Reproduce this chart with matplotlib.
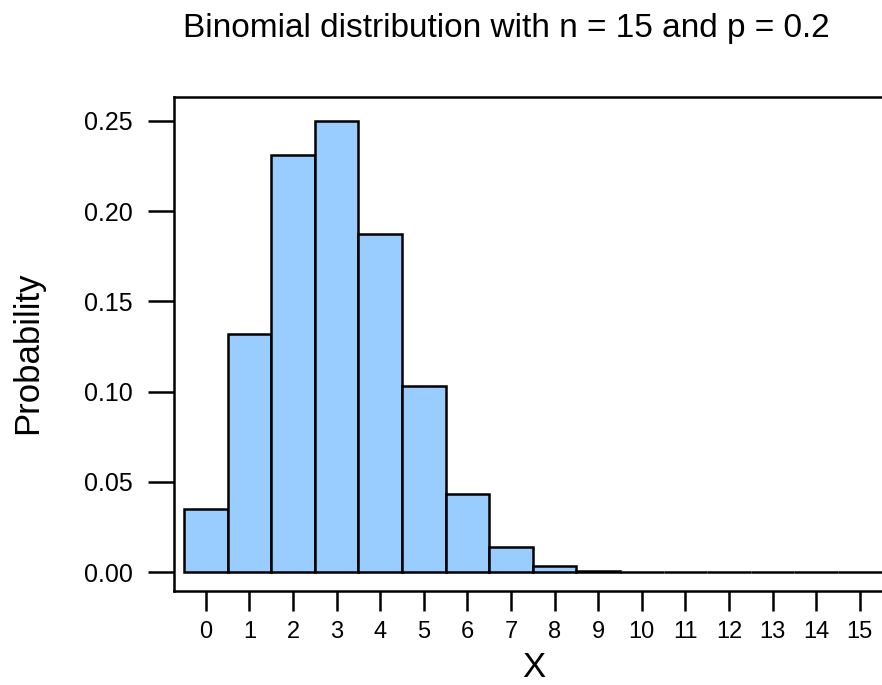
"""
Binomial distribution bar chart (n = 15, p = 0.2), R base-graphics look.
"""
import matplotlib
matplotlib.use("Agg")
import matplotlib.pyplot as plt

# Data
x_values = list(range(16))
probabilities = [0.0352, 0.1319, 0.2309, 0.2501, 0.1876, 0.1032, 0.0430, 0.0138,
                 0.0035, 0.0007, 0.0001, 0.0000, 0.0000, 0.0000, 0.0000, 0.0000]
y_ticks = [0.00, 0.05, 0.10, 0.15, 0.20, 0.25]
y_tick_labels = ["0.00", "0.05", "0.10", "0.15", "0.20", "0.25"]
title = "Binomial distribution with n = 15 and p = 0.2"

plt.rcParams['font.family'] = ['Liberation Sans', 'DejaVu Sans']

fig = plt.figure(figsize=(8.82, 6.85), dpi=100)
ax = fig.add_axes([174 / 882, 1 - 591 / 685, 712 / 882, 494 / 685])

ax.bar(x_values, probabilities, width=1.0, color='#99ccff',
       edgecolor='black', linewidth=1.8)

ax.set_xlim(-0.73, 15.6)
ax.set_ylim(-0.0105, 0.2633)

ax.set_xticks(x_values)
ax.set_xticklabels([str(v) for v in x_values], fontsize=17)
ax.set_yticks(y_ticks)
ax.set_yticklabels(y_tick_labels, fontsize=18)
ax.tick_params(axis='x', length=14.4, width=1.8, pad=7)
ax.tick_params(axis='y', length=18.7, width=1.8, pad=11)

for s in ax.spines.values():
    s.set_linewidth(1.8)

fig.text(534 / 882, 0.002, "X", ha='center', va='bottom', fontsize=25)
fig.text(28 / 882, 1 - 353 / 685, "Probability", ha='center', va='center',
         rotation=90, fontsize=25)
fig.text(506 / 882, 1 - 37 / 685, title, ha='center', va='baseline', fontsize=24)

fig.savefig("out.png", dpi=100, facecolor='white')
